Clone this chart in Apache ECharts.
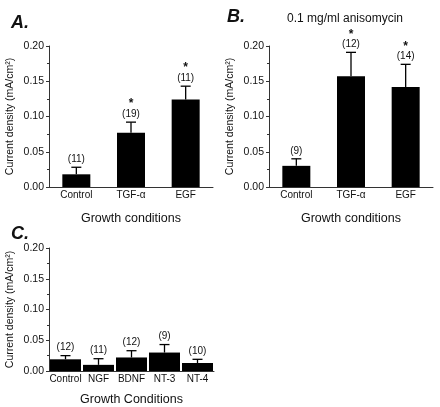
<!DOCTYPE html>
<html><head><meta charset="utf-8">
<script src="https://cdn.jsdelivr.net/npm/echarts@6/dist/echarts.min.js"></script>
<style>html,body{margin:0;padding:0;background:#fff}#c{width:440px;height:407px}</style>
</head><body><div id="c"></div>
<script>
// Panel A
const catsAB = ['Control', 'TGF-\u03b1', 'EGF'];
const aMean = [0.018, 0.077, 0.124];
const aSem = [0.010, 0.015, 0.019];
const aN = ['(11)', '(19)', '(11)'];
const aSig = ['', '*', '*'];
// Panel B
const bMean = [0.030, 0.157, 0.142];
const bSem = [0.010, 0.034, 0.032];
const bN = ['(9)', '(12)', '(14)'];
const bSig = ['', '*', '*'];
// Panel C
const catsC = ['Control', 'NGF', 'BDNF', 'NT-3', 'NT-4'];
const cMean = [0.019, 0.010, 0.022, 0.030, 0.013];
const cSem = [0.006, 0.010, 0.011, 0.013, 0.006];
const cN = ['(12)', '(11)', '(12)', '(9)', '(10)'];
const cSig = ['', '', '', '', ''];
const yTicks = [0, 0.05, 0.10, 0.15, 0.20];

const FONT = '"Liberation Sans", Arial, sans-serif';
const chart = echarts.init(document.getElementById('c'));

function yAxisFor(gi) {
  return {
    gridIndex: gi, type: 'value', min: yTicks[0], max: yTicks[yTicks.length - 1], interval: 0.05,
    name: 'Current density (mA/cm\u00b2)', nameLocation: 'middle', nameGap: 33,
    nameTextStyle: { fontFamily: FONT, fontSize: 10.5, color: '#111' },
    axisLine: { show: true, lineStyle: { color: '#333', width: 1 } },
    axisTick: { show: true, length: 3, lineStyle: { color: '#333' } },
    minorTick: { show: true, splitNumber: 2, length: 2, lineStyle: { color: '#333' } },
    splitLine: { show: false },
    axisLabel: { fontFamily: FONT, fontSize: 10.5, color: '#111', margin: 5, formatter: v => v.toFixed(2) }
  };
}
function xAxisFor(gi, cats, name, gap) {
  return {
    gridIndex: gi, type: 'category', data: cats,
    name: name, nameLocation: 'middle', nameGap: gap,
    nameTextStyle: { fontFamily: FONT, fontSize: 12.5, color: '#111' },
    axisLine: { show: true, lineStyle: { color: '#333', width: 1 } },
    axisTick: { show: false },
    axisLabel: { fontFamily: FONT, fontSize: 10, color: '#111', margin: 3, interval: 0 }
  };
}
function barSeries(gi, mean, bw) {
  return { type: 'bar', xAxisIndex: gi, yAxisIndex: gi, data: mean, barWidth: bw,
    itemStyle: { color: '#000' }, silent: true, animation: false };
}
function errSeries(gi, mean, sem, ns, sig) {
  const data = mean.map((m, i) => [i, m, m + sem[i]]);
  return {
    type: 'custom', xAxisIndex: gi, yAxisIndex: gi, data: data, animation: false, silent: true, z: 5,
    renderItem: function (params, api) {
      const i = api.value(0);
      const p0 = api.coord([i, api.value(1)]);
      const p1 = api.coord([i, api.value(2)]);
      const cap = 5;
      const children = [
        { type: 'line', shape: { x1: p0[0], y1: p0[1], x2: p1[0], y2: p1[1] }, style: { stroke: '#000', lineWidth: 1.3 } },
        { type: 'line', shape: { x1: p1[0] - cap, y1: p1[1], x2: p1[0] + cap, y2: p1[1] }, style: { stroke: '#000', lineWidth: 1.3 } },
        { type: 'text', style: { text: ns[i], x: p1[0], y: p1[1] - 8, align: 'center', verticalAlign: 'middle', font: '10px ' + FONT, fill: '#111' } }
      ];
      if (sig[i]) {
        children.push({ type: 'text', style: { text: sig[i], x: p1[0], y: p1[1] - 18, align: 'center', verticalAlign: 'middle', font: 'bold 12px ' + FONT, fill: '#111' } });
      }
      return { type: 'group', children: children };
    }
  };
}

chart.setOption({
  animation: false,
  grid: [
    { left: 49, top: 46, width: 164, height: 141 },
    { left: 269, top: 46, width: 164, height: 141 },
    { left: 49, top: 248, width: 165, height: 127 }
  ],
  title: [
    { text: 'A.', left: 6, top: 9, textStyle: { fontFamily: FONT, fontSize: 18, fontStyle: 'italic', fontWeight: 'bold', color: '#111' } },
    { text: 'B.', left: 222, top: 3, textStyle: { fontFamily: FONT, fontSize: 18, fontStyle: 'italic', fontWeight: 'bold', color: '#111' } },
    { text: 'C.', left: 6, top: 220, textStyle: { fontFamily: FONT, fontSize: 18, fontStyle: 'italic', fontWeight: 'bold', color: '#111' } },
    { text: '0.1 mg/ml anisomycin', left: 340, top: 8, textAlign: 'center', textStyle: { fontFamily: FONT, fontSize: 12, fontWeight: 'normal', color: '#111' } }
  ],
  xAxis: [
    xAxisFor(0, catsAB, 'Growth conditions', 25),
    xAxisFor(1, catsAB, 'Growth conditions', 25),
    xAxisFor(2, catsC, 'Growth Conditions', 22)
  ],
  yAxis: [yAxisFor(0), yAxisFor(1), yAxisFor(2)],
  series: [
    barSeries(0, aMean, 28), errSeries(0, aMean, aSem, aN, aSig),
    barSeries(1, bMean, 28), errSeries(1, bMean, bSem, bN, bSig),
    barSeries(2, cMean, 31), errSeries(2, cMean, cSem, cN, cSig)
  ]
});
</script></body></html>
